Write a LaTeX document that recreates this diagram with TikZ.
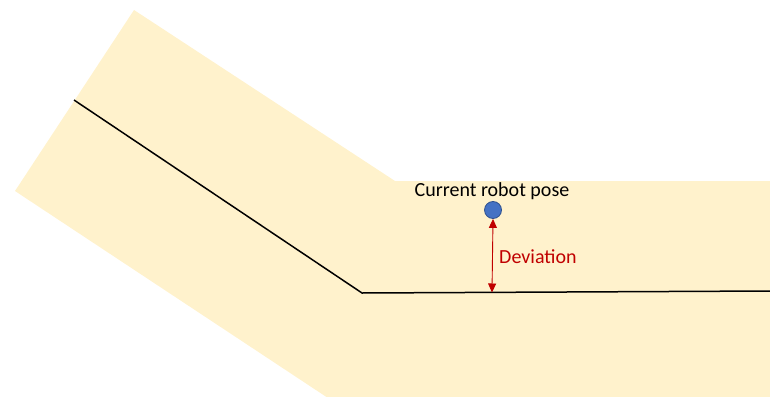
\documentclass[tikz,border=0pt]{standalone}
\usepackage{fontspec}
\setmainfont{Carlito}
\usetikzlibrary{arrows.meta}
\definecolor{bandfill}{HTML}{FFF2CC}
\definecolor{devred}{HTML}{C00000}
\definecolor{poseblue}{HTML}{4472C4}
\definecolor{poseedge}{HTML}{2F528F}
\tikzset{
  band/.style={fill=bandfill, draw=none},
  pathline/.style={draw=black, line width=1.5pt},
  posedot/.style={circle, fill=poseblue, draw=poseedge, line width=0.8pt, minimum size=17pt, inner sep=0pt},
  devarrow/.style={draw=devred, line width=0.9pt, {Triangle[width=8pt,length=9pt]}-{Triangle[width=8pt,length=9pt]}},
  lbl/.style={inner sep=0pt, font=\fontsize{20}{24}\selectfont}
}
\begin{document}
\begin{tikzpicture}[x=1pt,y=-1pt]
\useasboundingbox (0,0) rectangle (770,396);
\begin{scope}
\clip (0,0) rectangle (770,396);
\fill[band] (134,10) -- (395,181) -- (775,181) -- (775,400) -- (331,400) -- (15,191) -- cycle;
\end{scope}
\coordinate (p0) at (74,100);
\coordinate (p1) at (362,293);
\coordinate (p2) at (770,291);
\coordinate (foot) at (492,292.5);
\draw[pathline] (p0) -- (p1) -- (p2);
\node[posedot] (pose) at (493,210) {};
\node[lbl, text=black] (poselbl) at (492,191) {Current robot pose};
\draw[devarrow] (pose.south) -- (foot);
\node[lbl, text=devred, anchor=west] (devlbl) at (499,257) {Deviation};
\end{tikzpicture}
\end{document}
